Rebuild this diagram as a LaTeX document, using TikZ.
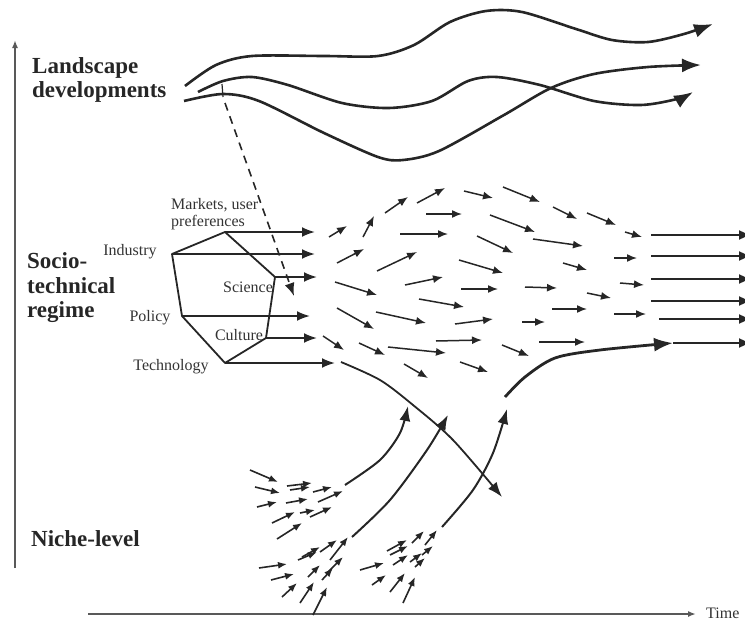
\documentclass[tikz,border=0pt]{standalone}
\usepackage{fontspec}
\setmainfont{Liberation Serif}
\usepackage{tikz}
\usetikzlibrary{arrows.meta}

\begin{document}
\begin{tikzpicture}[x=1pt,y=-1pt]

\tikzset{
  levellabel/.style={font=\fontsize{23}{24.5}\selectfont\bfseries, align=left,
                  text=black!85, inner sep=0pt},
  dimlabel/.style={font=\fontsize{16}{17.5}\selectfont, align=left,
                  text=black!80, inner sep=0pt},
  axis/.style={black!65, line width=1.8pt, -{Latex[length=8pt, width=6pt]}},
  hexline/.style={black!85, line width=1.8pt, line join=round},
  landscape/.style={black!85, line width=2.6pt,
                  -{Latex[length=19pt, width=14pt]}},
  flow/.style={black!85, line width=1.5pt, -{Latex[length=10pt, width=8pt]}},
  regime/.style={black!85, line width=2pt, -{Latex[length=13pt, width=10pt]}},
  niche/.style={black!85, line width=2pt, -{Latex[length=15pt, width=11pt]}},
  seed/.style={black!85, line width=1.6pt, -{Latex[length=9pt, width=7pt]}},
  pressure/.style={black!85, line width=1.6pt, dash pattern=on 8pt off 6pt,
                  -{Latex[length=13pt, width=10pt]}}
}

\useasboundingbox (0,0) rectangle (745,621);

% Axes and level names
\coordinate (ybot) at (15,568);
\coordinate (ytop) at (15,40);
\draw[axis] (ybot) -- (ytop);
\node[dimlabel, anchor=west] (time) at (706,613) {Time};
\coordinate (tstart) at (88,614);
\draw[axis] (tstart) -- ([xshift=-10pt]time.west |- tstart);

\node[levellabel, anchor=west] (land) at (32,80) {Landscape\\developments};
\node[levellabel, anchor=west] (regime) at (27,288) {Socio-\\technical\\regime};
\node[levellabel, anchor=west] (niche) at (31,539) {Niche-level};

% Landscape
\draw[landscape] plot[smooth] coordinates {(185,86) (216,65) (252,56) (324,56)
  (378,56) (414,45) (450,22) (486,11) (522,12) (576,29) (612,40) (648,42)
  (684,34) (713,24)};
\draw[landscape] plot[smooth] coordinates {(198,92) (223,81) (252,77) (288,85)
  (342,103) (389,108) (432,101) (468,81) (497,77) (540,85) (594,101)
  (641,105) (677,99) (693,92)};
\draw[landscape] plot[smooth] coordinates {(184,101) (223,94) (259,101)
  (324,133) (378,157) (403,160) (439,151) (504,115) (551,88) (594,74)
  (648,67) (701,65)};
\coordinate (tick) at (222,84);
\coordinate (dashstart) at (225,103);
\coordinate (dashend) at (294,296);
\draw[black!85, line width=1.2pt] (tick) -- (223,97);
\draw[pressure] (dashstart) -- (dashend);

% Regime dimensions
\coordinate (ind) at (172,254);
\coordinate (mkt) at (225,232);
\coordinate (sci) at (275,277);
\coordinate (cul) at (266,338);
\coordinate (tec) at (225,363);
\coordinate (pol) at (182,316);
\draw[hexline] (ind) -- (mkt) -- (sci) -- (cul) -- (tec) -- (pol) -- cycle;

\node[dimlabel, anchor=west] (markets) at (171,214) {Markets, user\\preferences};
\node[dimlabel] (industry) at (130,252) {Industry};
\node[dimlabel] (science) at (248,287) {Science};
\node[dimlabel] (policy) at (150,318) {Policy};
\node[dimlabel] (culture) at (239,335) {Culture};
\node[dimlabel] (technology) at (171,367) {Technology};

\foreach \v/\d in {mkt/90, ind/143, sci/42, pol/128, cul/51, tec/110}
  \draw[regime] (\v) -- ++(\d,0);

% Regime arrow field
\foreach \a/\b/\c/\d in {329/237/347/226, 363/237/374/216, 385/213/408/197,
    417/203/445/188, 464/191/493/198, 503/187/540/202, 553/207/577/219,
    587/213/616/225, 625/232/642/237, 426/214/462/214, 490/215/535/232,
    400/234/448/234, 337/263/364/249, 377/271/417/252, 477/236/513/253,
    533/239/583/246, 563/263/587/270, 614/258/637/258, 459/260/503/273,
    335/282/377/295, 405/285/443/277, 461/289/498/289, 525/287/557/288,
    620/283/644/285, 587/293/611/298, 419/299/464/307, 337/308/374/329,
    376/312/426/323, 455/324/493/319, 522/322/545/322, 552/309/587/309,
    614/314/646/314, 323/336/344/350, 359/343/385/355, 388/347/446/353,
    436/341/482/340, 502/345/529/356, 539/342/585/342, 404/364/428/378,
    460/362/488/372}
  \draw[flow] (\a,\b) -- (\c,\d);

\foreach \y/\x in {235/651, 256/651, 279/651, 301/651, 319/659, 343/673}
  \draw[regime, line width=2.4pt] (\x,\y) -- (752,\y);

% Breakthrough and old regime
\draw[niche, line width=2.8pt, -{Latex[length=19pt, width=14pt]}]
  plot[smooth] coordinates {(505,397) (525,377) (555,358) (600,350) (673,343)};
\draw[niche, line width=1.8pt] plot[smooth] coordinates {(341,362) (380,380)
  (413,405) (453,440) (502,497)};

% Niches
\draw[niche] plot[smooth] coordinates {(345,485) (380,460) (400,433) (408,406)};
\draw[niche] plot[smooth] coordinates {(352,537) (390,500) (427,450) (448,415)};
\draw[niche] plot[smooth] coordinates {(442,527) (473,490) (493,453) (507,409)};

\foreach \a/\b/\c/\d in {250/470/278/482, 255/487/280/493, 287/486/312/483,
    290/490/310/487, 313/492/332/487, 318/502/343/491, 257/507/277/502,
    286/503/308/499, 272/523/295/512, 300/513/315/510, 310/517/332/507,
    277/539/302/523,
    259/568/287/564, 271/580/294/574, 282/597/297/583, 300/603/314/582,
    313/615/327/587, 298/560/317/552, 302/557/320/547, 320/552/337/540,
    330/560/348/537, 308/577/320/565, 322/580/333/568, 328/572/343/557,
    360/570/384/563, 372/585/386/575, 390/592/405/573, 403/603/415/577,
    387/551/407/540, 390/555/408/546, 393/565/408/555, 412/543/424/531,
    410/562/422/553, 415/567/425/558, 422/555/433/546, 425/545/437/530}
  \draw[seed] (\a,\b) -- (\c,\d);

\end{tikzpicture}
\end{document}
